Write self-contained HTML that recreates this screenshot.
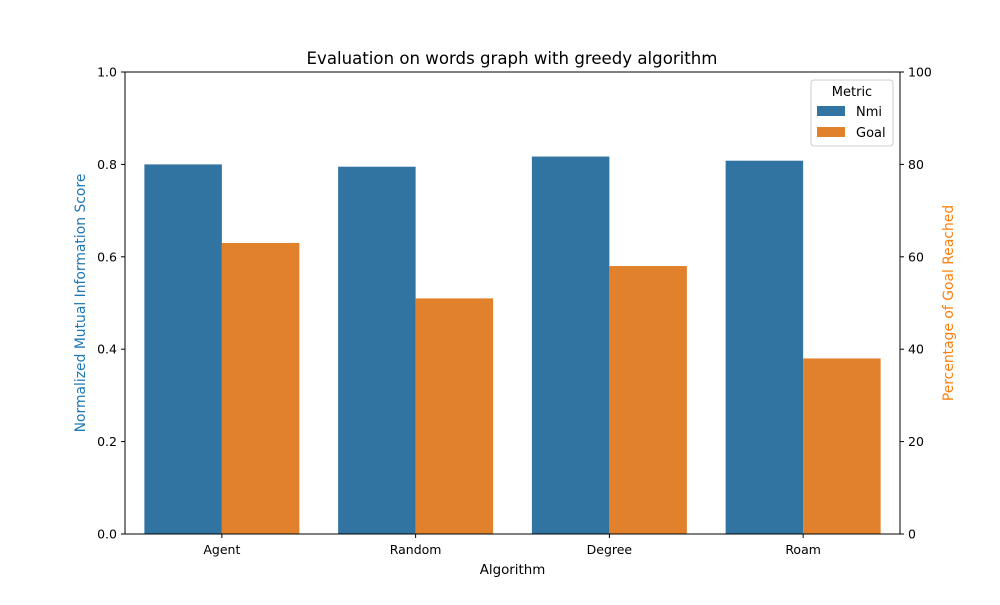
<!DOCTYPE html>
<html><head><meta charset="utf-8"><style>
body{margin:0;background:#fff}
svg{font-family:"DejaVu Sans","Liberation Sans",sans-serif}
</style></head><body>
<svg width="1000" height="600" viewBox="0 0 1000 600">
<text x="512" y="64" font-size="16.6" text-anchor="middle">Evaluation on words graph with greedy algorithm</text>
<g id="bars"></g>
<rect x="125" y="72" width="775" height="462" fill="none" stroke="#000" stroke-width="1"/>
<g id="ticks" font-size="12.5"></g>
<text x="512.5" y="574" font-size="13.4" text-anchor="middle">Algorithm</text>
<text transform="translate(85,303) rotate(-90)" font-size="13.9" fill="#1f77b4" text-anchor="middle">Normalized Mutual Information Score</text>
<text transform="translate(953,303) rotate(-90)" font-size="13.9" fill="#ff7f0e" text-anchor="middle">Percentage of Goal Reached</text>
<g>
<rect x="811" y="80" width="82" height="66" fill="#fff" fill-opacity="0.8" stroke="#ccc" rx="3"/>
<text x="852" y="96" font-size="13" text-anchor="middle">Metric</text>
<rect x="817" y="106" width="28" height="10" fill="#3274a1"/>
<text x="856" y="116" font-size="13">Nmi</text>
<rect x="817" y="127" width="28" height="10" fill="#e1812c"/>
<text x="856" y="137" font-size="13">Goal</text>
</g>
</svg>
<script>
const categories=["Agent","Random","Degree","Roam"];
const nmiValues=[0.800,0.795,0.817,0.808];
const goalValues=[63,51,58,38];
const leftTicks=[0,0.2,0.4,0.6,0.8,1.0];
const rightTicks=[0,20,40,60,80,100];
const NS="http://www.w3.org/2000/svg";
const L=125,R=900,T=72,B=534;
const yL=v=>B-(v/1)*(B-T);
const yR=v=>B-(v/100)*(B-T);
const band=(R-L)/categories.length;
const xc=i=>L+band*(i+0.5);
const bw=band*0.4;
const bars=document.getElementById('bars');
const tk=document.getElementById('ticks');
function mk(tag,attrs,parent){const e=document.createElementNS(NS,tag);for(const k in attrs)e.setAttribute(k,attrs[k]);parent.appendChild(e);return e;}
categories.forEach((c,i)=>{
 const a=mk('rect',{x:xc(i)-bw,y:yL(nmiValues[i]),width:bw,height:B-yL(nmiValues[i]),fill:'#3274a1'},bars);
 
 
 const b=mk('rect',{x:xc(i),y:yR(goalValues[i]),width:bw,height:B-yR(goalValues[i]),fill:'#e1812c'},bars);
 
 
 mk('line',{x1:xc(i),x2:xc(i),y1:B,y2:B+4,stroke:'#000'},tk);
 const t=mk('text',{x:xc(i),y:B+20,'text-anchor':'middle'},tk);t.textContent=c;
 
 
});
leftTicks.forEach(v=>{
 mk('line',{x1:L-4,x2:L,y1:yL(v),y2:yL(v),stroke:'#000'},tk);
 const t=mk('text',{x:L-8,y:yL(v)+4.5,'text-anchor':'end'},tk);t.textContent=v.toFixed(1);
 
 
});
rightTicks.forEach(v=>{
 mk('line',{x1:R,x2:R+4,y1:yR(v),y2:yR(v),stroke:'#000'},tk);
 const t=mk('text',{x:R+8,y:yR(v)+4.5,'text-anchor':'start'},tk);t.textContent=v;
 
 
});
</script>
</body></html>
